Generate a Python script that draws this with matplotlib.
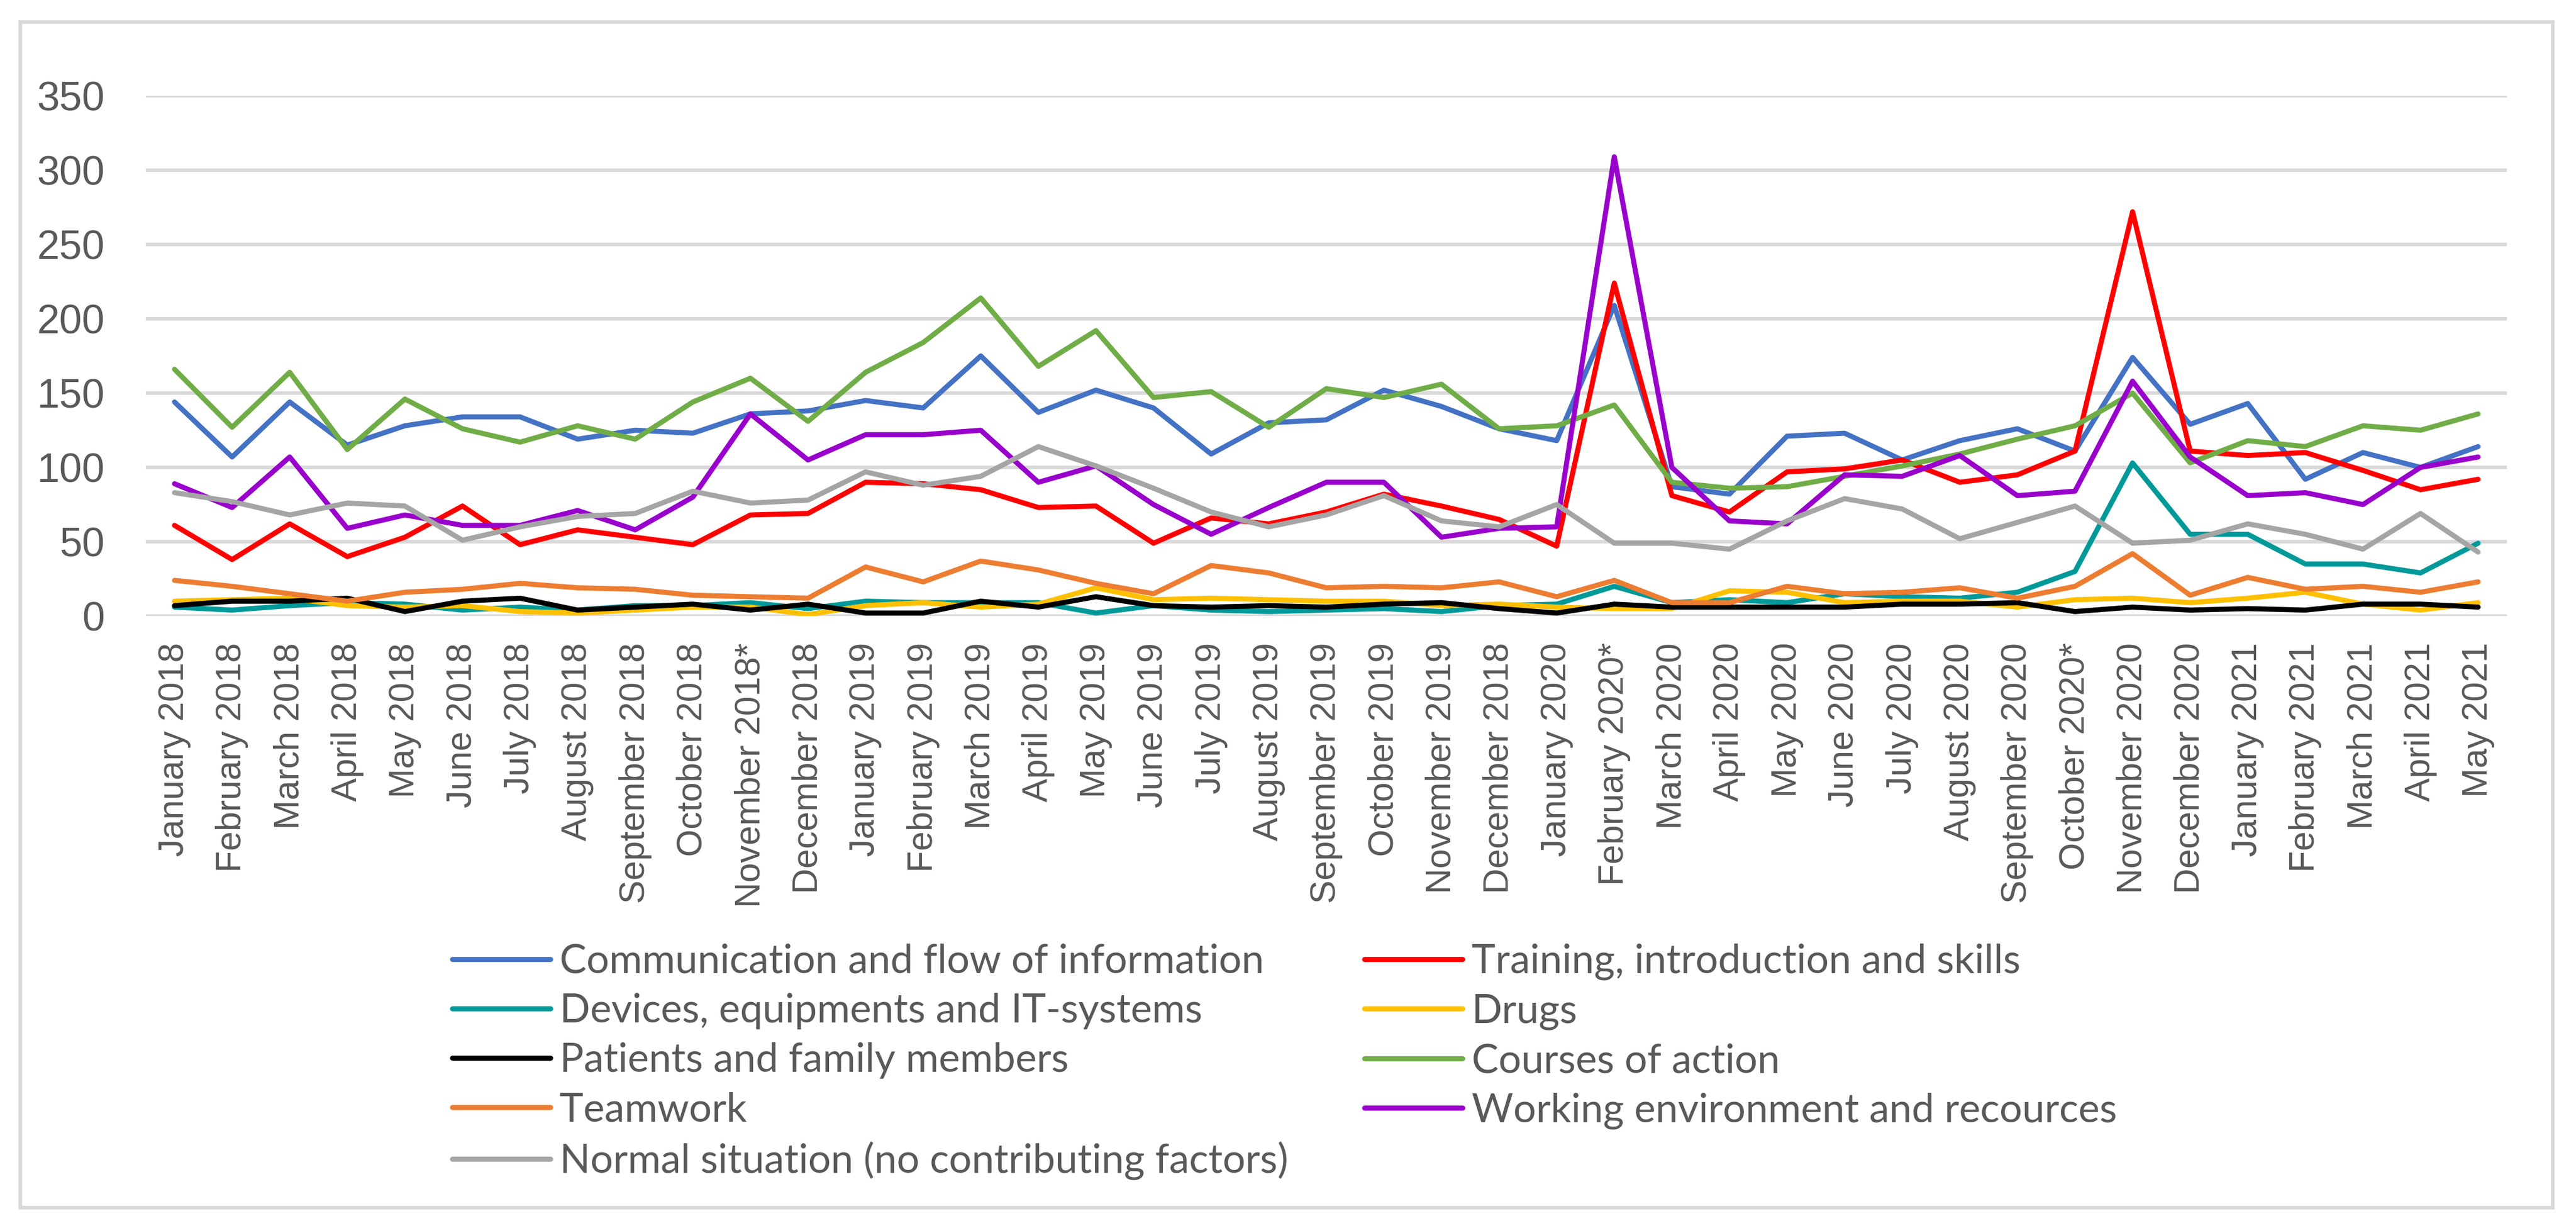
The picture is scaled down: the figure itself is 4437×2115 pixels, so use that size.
import numpy as np
import matplotlib
matplotlib.use("Agg")
import matplotlib.pyplot as plt
from matplotlib.patches import Rectangle

# x axis labels (as printed in the source, incl. the "December 2018" slip)
months = ["January", "February", "March", "April", "May", "June", "July",
          "August", "September", "October", "November", "December"]
labels = [m + " 2018" for m in months]
labels[10] = "November 2018*"
labels += [m + " 2019" for m in months]
labels[23] = "December 2018"
labels += [m + " 2020" for m in months]
labels[25] = "February 2020*"
labels[33] = "October 2020*"
labels += [m + " 2021" for m in months[:5]]

communication = [144, 107, 144, 115, 128, 134, 134, 119, 125, 123, 136, 138,
                 145, 140, 175, 137, 152, 140, 109, 130, 132, 152, 141, 126,
                 118, 209, 87, 82, 121, 123, 105, 118, 126, 111, 174, 129,
                 143, 92, 110, 100, 114]
training = [61, 38, 62, 40, 53, 74, 48, 58, 53, 48, 68, 69,
            90, 89, 85, 73, 74, 49, 66, 62, 70, 82, 74, 65,
            47, 224, 81, 70, 97, 99, 105, 90, 95, 111, 272, 111,
            108, 110, 98, 85, 92]
devices = [6, 4, 7, 9, 8, 4, 6, 4, 7, 7, 9, 5,
           10, 9, 9, 9, 2, 7, 4, 3, 4, 5, 3, 7,
           8, 20, 9, 11, 9, 15, 13, 12, 16, 30, 103, 55,
           55, 35, 35, 29, 49]
drugs = [10, 11, 12, 7, 6, 7, 3, 2, 4, 6, 6, 1,
         7, 9, 6, 8, 19, 11, 12, 11, 10, 10, 7, 8,
         6, 5, 5, 17, 16, 9, 10, 10, 6, 11, 12, 9,
         12, 16, 8, 4, 9]
patients = [7, 10, 10, 12, 3, 10, 12, 4, 6, 8, 4, 8,
            2, 2, 10, 6, 13, 7, 6, 7, 6, 8, 9, 5,
            2, 8, 6, 6, 6, 6, 8, 8, 9, 3, 6, 4,
            5, 4, 8, 8, 6]
courses = [166, 127, 164, 112, 146, 126, 117, 128, 119, 144, 160, 131,
           164, 184, 214, 168, 192, 147, 151, 127, 153, 147, 156, 126,
           128, 142, 90, 86, 87, 94, 101, 109, 119, 128, 150, 103,
           118, 114, 128, 125, 136]
teamwork = [24, 20, 15, 10, 16, 18, 22, 19, 18, 14, 13, 12,
            33, 23, 37, 31, 22, 15, 34, 29, 19, 20, 19, 23,
            13, 24, 9, 9, 20, 15, 16, 19, 12, 20, 42, 14,
            26, 18, 20, 16, 23]
working = [89, 73, 107, 59, 68, 61, 61, 71, 58, 80, 136, 105,
           122, 122, 125, 90, 101, 75, 55, 73, 90, 90, 53, 59,
           60, 309, 100, 64, 62, 95, 94, 108, 81, 84, 158, 107,
           81, 83, 75, 100, 107]
normal = [83, 77, 68, 76, 74, 51, 60, 67, 69, 84, 76, 78,
          97, 88, 94, 114, 101, 86, 70, 60, 68, 81, 64, 60,
          75, 49, 49, 45, 64, 79, 72, 52, 63, 74, 49, 51,
          62, 55, 45, 69, 43]

series = [
    ("Communication and flow of information", communication, "#4472C4"),
    ("Training, introduction and skills", training, "#FF0000"),
    ("Devices, equipments and IT-systems", devices, "#009999"),
    ("Drugs", drugs, "#FFC000"),
    ("Patients and family members", patients, "#000000"),
    ("Courses of action", courses, "#70AD47"),
    ("Teamwork", teamwork, "#ED7D31"),
    ("Working environment and recources", working, "#9900CC"),
    ("Normal situation (no contributing factors)", normal, "#A5A5A5"),
]

W, H, DPI = 4437, 2115, 300
fig = plt.figure(figsize=(W / DPI, H / DPI), dpi=DPI)
fig.patch.set_facecolor("white")

# outer chart frame
fig.patches.append(Rectangle((35 / W, 1 - 2080 / H), (4397 - 35) / W, (2080 - 38) / H,
                             transform=fig.transFigure, fill=False,
                             edgecolor="#D9D9D9", linewidth=1.5))

ax = fig.add_axes([251 / W, 1 - 1061 / H, (4318 - 251) / W, (1061 - 165) / H])
x = np.arange(len(labels))
handles = []
for i, (name, vals, col) in enumerate(series):
    h, = ax.plot(x, vals, color=col, lw=2.1, label=name, zorder=3 + i,
                 solid_joinstyle="round", solid_capstyle="round")
    handles.append(h)

ax.set_xlim(-0.5, len(labels) - 0.5)
ax.set_ylim(0, 350)
ax.set_yticks(np.arange(0, 351, 50))
ax.yaxis.grid(True, color="#D9D9D9", lw=1.45, zorder=0)
ax.set_axisbelow(True)
for s in ax.spines.values():
    s.set_visible(False)
ax.tick_params(axis="both", length=0, colors="#595959")
ax.tick_params(axis="y", pad=17, labelsize=16.8)
ax.set_yticklabels([str(v) for v in range(0, 351, 50)], family="Liberation Sans")
ax.set_xticks(x)
ax.set_xticklabels(labels, rotation=90, family="Liberation Sans", fontsize=14.6,
                   va="top", ha="center")
ax.tick_params(axis="x", pad=11)

# legend, row-major like the original (two columns)
order = [0, 2, 4, 6, 8, 1, 3, 5, 7]
leg = fig.legend([handles[k] for k in order], [series[k][0] for k in order],
                 loc="upper left", bbox_to_anchor=(779 / W, 1 - 1625 / H),
                 ncol=2, frameon=False, borderpad=0, borderaxespad=0,
                 handlelength=2.45, handletextpad=0.22, columnspacing=1.9,
                 labelspacing=0.32, prop={"family": "Lato", "size": 16.6})
for t in leg.get_texts():
    t.set_color("#595959")

fig.savefig("out.png", dpi=DPI, facecolor="white")
